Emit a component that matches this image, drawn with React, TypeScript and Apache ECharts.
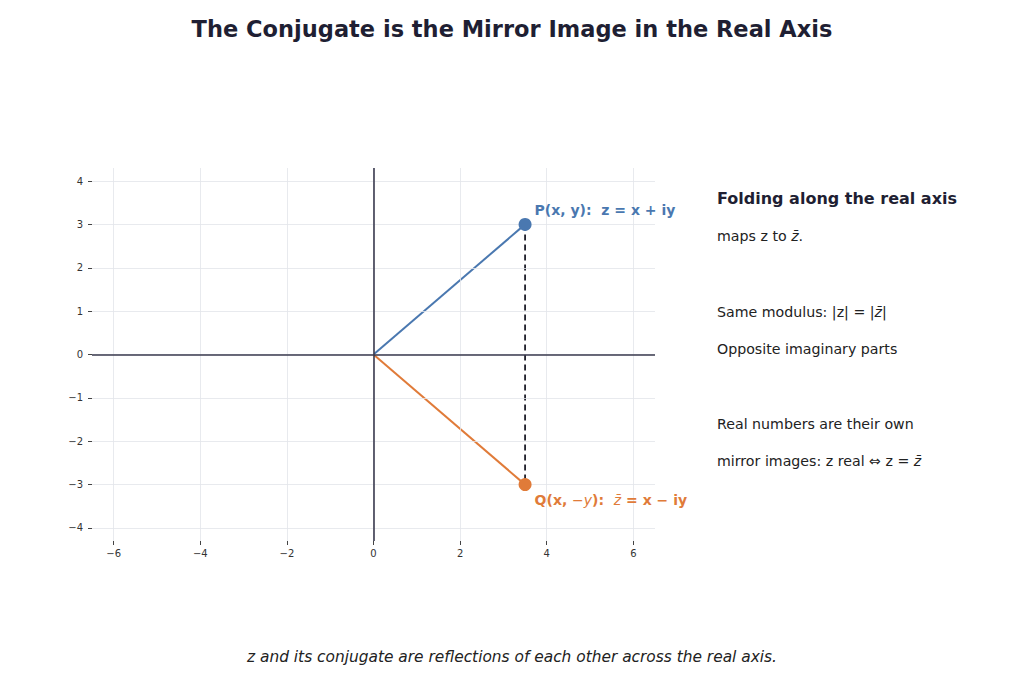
import React, { useEffect, useRef } from 'react';
import * as echarts from 'echarts';

const xTicks = [-6, -4, -2, 0, 2, 4, 6];
const yTicks = [-4, -3, -2, -1, 0, 1, 2, 3, 4];
const origin = [0, 0];
const pointP = [3.5, 3];
const pointQ = [3.5, -3];

const BLUE = '#4a78b0';
const ORANGE = '#e07b39';
const DARK = '#3a3a4e';
const FONT = 'DejaVu Sans';

const fmt = (v: number) => (v < 0 ? '\u2212' + Math.abs(v) : String(v));

const App: React.FC = () => {
  const chartRef = useRef<HTMLDivElement | null>(null);

  useEffect(() => {
    if (!chartRef.current) return;
    const chart = echarts.init(chartRef.current, undefined, { renderer: 'svg' });

    const gridLines = [
      ...xTicks.map(v => ({ xAxis: v })),
      ...yTicks.map(v => ({ yAxis: v })),
    ];

    const option = {
      animation: false,
      textStyle: { fontFamily: FONT },
      title: {
        text: 'The Conjugate is the Mirror Image in the Real Axis',
        left: 'center',
        top: 12,
        textStyle: { fontSize: 22.5, fontWeight: 'bold', color: '#1f1f33', fontFamily: FONT },
      },
      grid: { left: 92, top: 168, width: 563, height: 373 },
      xAxis: {
        type: 'value',
        min: -6.5,
        max: 6.5,
        axisLine: { show: false, onZero: false },
        axisTick: { show: true, customValues: xTicks, length: 4, lineStyle: { color: '#444' } },
        axisLabel: { customValues: xTicks, formatter: fmt, fontSize: 10, color: '#333', margin: 7, fontFamily: FONT },
        splitLine: { show: false },
      },
      yAxis: {
        type: 'value',
        min: -4.3,
        max: 4.3,
        axisLine: { show: false, onZero: false },
        axisTick: { show: true, customValues: yTicks, length: 4, lineStyle: { color: '#444' } },
        axisLabel: { customValues: yTicks, formatter: fmt, fontSize: 10, color: '#333', margin: 9, fontFamily: FONT },
        splitLine: { show: false },
      },
      series: [
        {
          type: 'line',
          data: [],
          silent: true,
          z: 1,
          markLine: {
            silent: true,
            symbol: 'none',
            label: { show: false },
            lineStyle: { color: '#e2e5ea', width: 0.8, type: 'solid' },
            data: gridLines,
          },
        },
        {
          type: 'line',
          data: [],
          silent: true,
          z: 2,
          markLine: {
            silent: true,
            symbol: 'none',
            label: { show: false },
            lineStyle: { color: DARK, width: 1.6, type: 'solid' },
            data: [{ xAxis: 0 }, { yAxis: 0 }],
          },
        },
        {
          type: 'line',
          data: [origin, pointP],
          showSymbol: false,
          lineStyle: { color: BLUE, width: 2 },
          z: 3,
        },
        {
          type: 'line',
          data: [origin, pointQ],
          showSymbol: false,
          lineStyle: { color: ORANGE, width: 2 },
          z: 3,
        },
        {
          type: 'line',
          data: [pointP, pointQ],
          showSymbol: false,
          lineStyle: { color: '#1f1f2a', width: 1.8, type: [6, 4] },
          z: 4,
        },
        {
          type: 'scatter',
          data: [pointP],
          symbolSize: 13,
          itemStyle: { color: BLUE, opacity: 1 },
          z: 5,
          label: {
            show: true,
            position: 'right',
            offset: [-2, -14],
            formatter: 'P(x, y):  z = x + iy',
            color: BLUE,
            fontWeight: 'bold',
            fontSize: 14,
            fontFamily: FONT,
          },
        },
        {
          type: 'scatter',
          data: [pointQ],
          symbolSize: 13,
          itemStyle: { color: ORANGE, opacity: 1 },
          z: 5,
          label: {
            show: true,
            position: 'right',
            offset: [-2, 15],
            formatter: 'Q(x, {i|\u2212y}):  {i|z\u0304} = x \u2212 iy',
            color: ORANGE,
            fontWeight: 'bold',
            fontSize: 14,
            fontFamily: FONT,
            rich: {
              i: { fontStyle: 'italic', fontWeight: 'normal', color: ORANGE, fontSize: 14, fontFamily: FONT },
            },
          },
        },
      ],
      graphic: [
        {
          type: 'text',
          left: 717,
          top: 190,
          style: { text: 'Folding along the real axis', font: `bold 16px ${FONT}`, fill: '#1f1f33' },
        },
        {
          type: 'text',
          left: 717,
          top: 229,
          style: {
            text: 'maps z to {i|z\u0304}.',
            font: `14.2px ${FONT}`,
            fill: '#222',
            rich: { i: { fontStyle: 'italic', fontSize: 14.2, fontFamily: FONT, fill: '#222' } },
          },
        },
        {
          type: 'text',
          left: 717,
          top: 305,
          style: {
            text: 'Same modulus: |z| = |{i|z\u0304}|',
            font: `14.2px ${FONT}`,
            fill: '#222',
            rich: { i: { fontStyle: 'italic', fontSize: 14.2, fontFamily: FONT, fill: '#222' } },
          },
        },
        {
          type: 'text',
          left: 717,
          top: 342,
          style: { text: 'Opposite imaginary parts', font: `14.2px ${FONT}`, fill: '#222' },
        },
        {
          type: 'text',
          left: 717,
          top: 417,
          style: { text: 'Real numbers are their own', font: `14.2px ${FONT}`, fill: '#222' },
        },
        {
          type: 'text',
          left: 717,
          top: 454,
          style: {
            text: 'mirror images: z real \u21D4 z = {i|z\u0304}',
            font: `14.2px ${FONT}`,
            fill: '#222',
            rich: { i: { fontStyle: 'italic', fontSize: 14.2, fontFamily: FONT, fill: '#222' } },
          },
        },
        {
          type: 'text',
          left: 'center',
          top: 649,
          style: {
            text: 'z and its conjugate are reflections of each other across the real axis.',
            font: `italic 15.4px ${FONT}`,
            fill: '#222',
          },
        },
      ],
    };

    chart.setOption(option);
    return () => {
      chart.dispose();
    };
  }, []);

  return <div ref={chartRef} style={{ width: 1024, height: 683, margin: -8 }} />;
};

export default App;
